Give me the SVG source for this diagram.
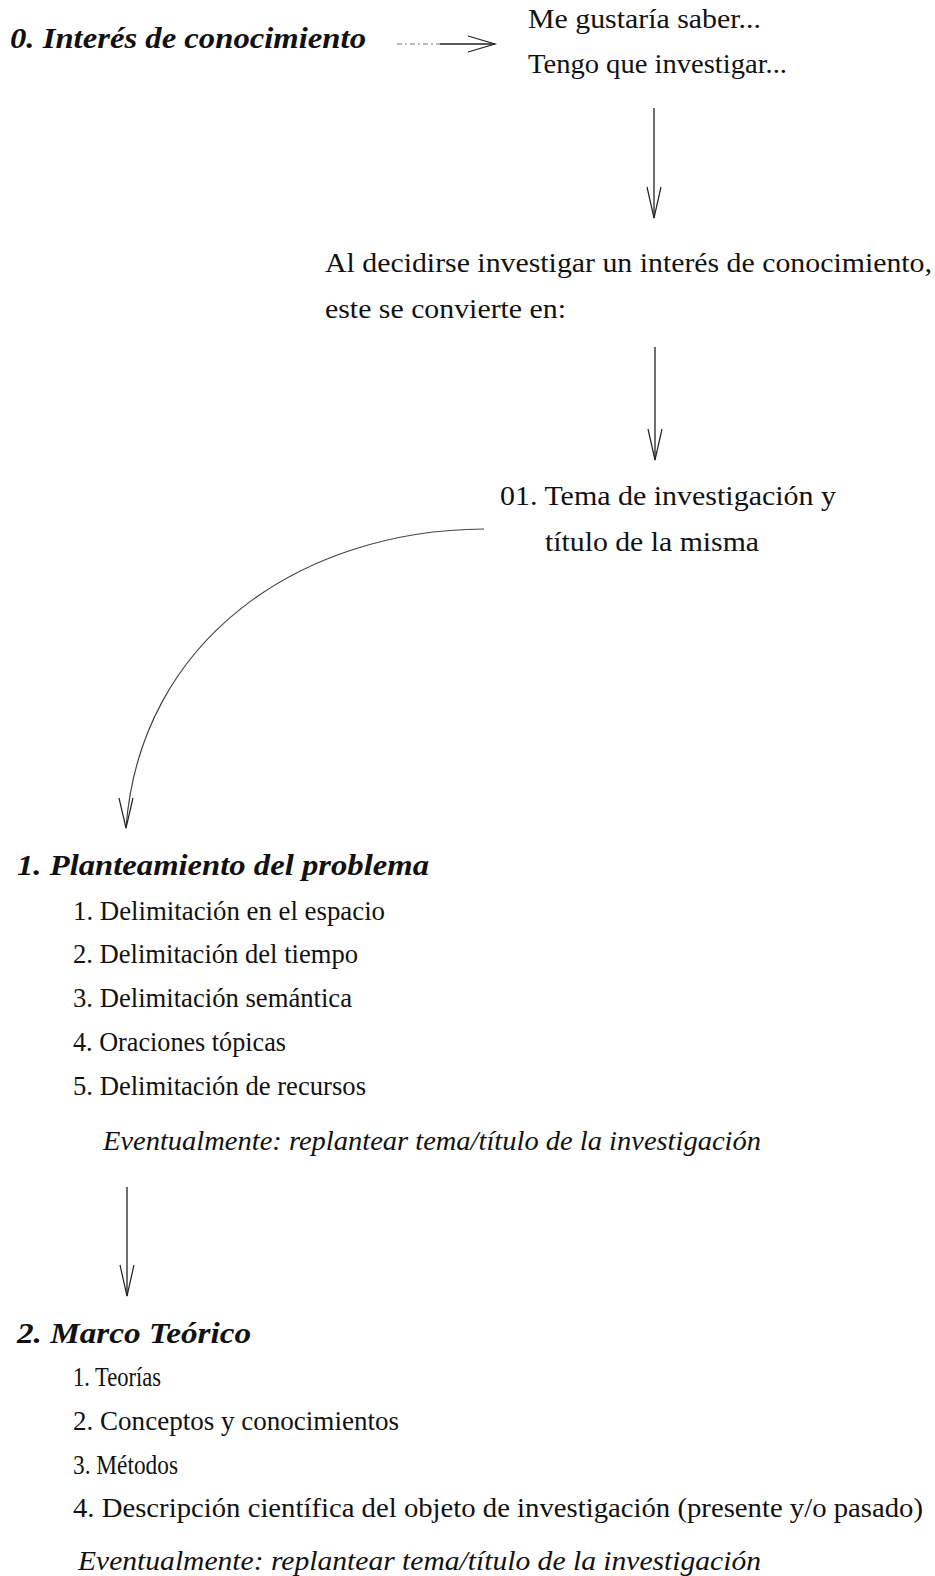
<svg xmlns="http://www.w3.org/2000/svg" width="935" height="1576" viewBox="0 0 935 1576" font-family="Liberation Serif, Times New Roman, serif">
<style>
text{font-family:'Liberation Serif','Times New Roman',serif;fill:#111}
.t{font-size:28px}
.h{font-size:30px;font-weight:bold;font-style:italic}
.i{font-size:28px;font-style:italic}
.c{fill:none;stroke:#222;stroke-width:1.3}
.a{fill:none;stroke:#222;stroke-width:1.2}
</style>
<rect width="935" height="1576" fill="#fff"/>
<g id="n0">
<text class="h" x="10" y="48" textLength="356" lengthAdjust="spacingAndGlyphs">0. Interés de conocimiento</text>
</g>
<g id="n0b">
<text class="t" x="528" y="28" textLength="233" lengthAdjust="spacingAndGlyphs">Me gustaría saber...</text>
<text class="t" x="528" y="73" textLength="259" lengthAdjust="spacingAndGlyphs">Tengo que investigar...</text>
</g>
<g id="n0c">
<text class="t" x="325" y="272" textLength="607" lengthAdjust="spacingAndGlyphs">Al decidirse investigar un interés de conocimiento,</text>
<text class="t" x="325" y="318" textLength="241" lengthAdjust="spacingAndGlyphs">este se convierte en:</text>
</g>
<g id="n01">
<text class="t" x="500" y="505" textLength="336" lengthAdjust="spacingAndGlyphs">01. Tema de investigación y</text>
<text class="t" x="545" y="551" textLength="214" lengthAdjust="spacingAndGlyphs">título de la misma</text>
</g>
<g id="n1">
<text class="h" x="17" y="875" textLength="412" lengthAdjust="spacingAndGlyphs">1. Planteamiento del problema</text>
<text class="t" x="73" y="920" textLength="312" lengthAdjust="spacingAndGlyphs">1. Delimitación en el espacio</text>
<text class="t" x="73" y="963" textLength="285" lengthAdjust="spacingAndGlyphs">2. Delimitación del tiempo</text>
<text class="t" x="73" y="1007" textLength="279" lengthAdjust="spacingAndGlyphs">3. Delimitación semántica</text>
<text class="t" x="73" y="1051" textLength="213" lengthAdjust="spacingAndGlyphs">4. Oraciones tópicas</text>
<text class="t" x="73" y="1095" textLength="293" lengthAdjust="spacingAndGlyphs">5. Delimitación de recursos</text>
<text class="i" x="103" y="1150" textLength="658" lengthAdjust="spacingAndGlyphs">Eventualmente: replantear tema/título de la investigación</text>
</g>
<g id="n2">
<text class="h" x="17" y="1343" textLength="234" lengthAdjust="spacingAndGlyphs">2. Marco Teórico</text>
<text class="t" x="73" y="1386" textLength="88" lengthAdjust="spacingAndGlyphs">1. Teorías</text>
<text class="t" x="73" y="1430" textLength="326" lengthAdjust="spacingAndGlyphs">2. Conceptos y conocimientos</text>
<text class="t" x="73" y="1474" textLength="105" lengthAdjust="spacingAndGlyphs">3. Métodos</text>
<text class="t" x="73" y="1517" textLength="850" lengthAdjust="spacingAndGlyphs">4. Descripción científica del objeto de investigación (presente y/o pasado)</text>
<text class="i" x="78" y="1570" textLength="683" lengthAdjust="spacingAndGlyphs">Eventualmente: replantear tema/título de la investigación</text>
</g>
<g id="connectors">
<line x1="397" y1="44" x2="440" y2="44" stroke="#777" stroke-width="1.2" stroke-dasharray="5 3 2 3"/>
<line class="c" x1="440" y1="44" x2="495" y2="44" stroke="#555"/>
<polyline class="a" points="468,36 495,44 468,52"/>
<line class="c" x1="654" y1="108" x2="654" y2="218"/>
<polyline class="a" points="647,187 654,218 661,187"/>
<line class="c" x1="655" y1="347" x2="655" y2="460"/>
<polyline class="a" points="648,429 655,460 662,429"/>
<path d="M484,529 C300,530 140,640 126,828" fill="none" stroke="#444" stroke-width="1.2"/>
<polyline class="a" points="119,798 126,828 133,798"/>
<line class="c" x1="127" y1="1187" x2="127" y2="1296"/>
<polyline class="a" points="120,1265 127,1296 134,1265"/>
</g>
</svg>
